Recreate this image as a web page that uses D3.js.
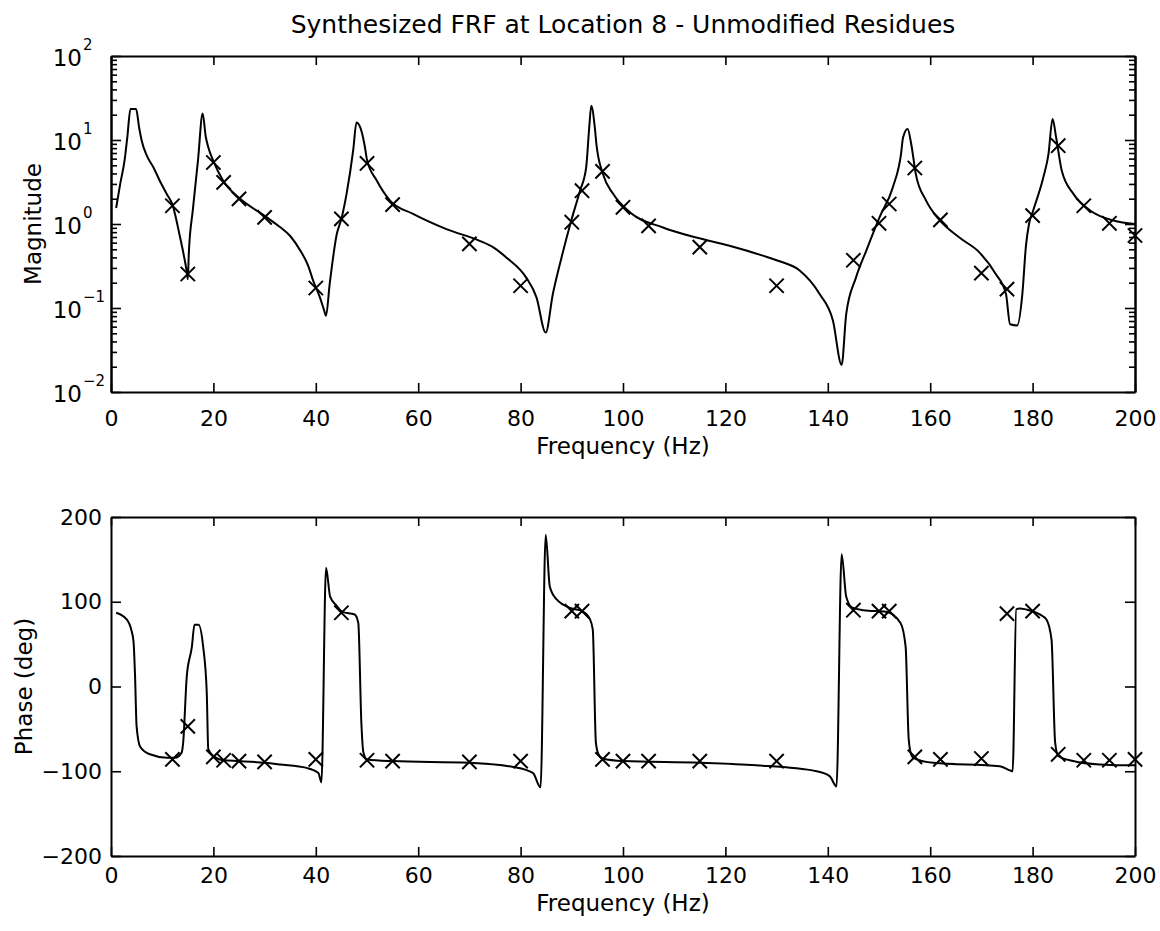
<!DOCTYPE html>
<html><head><meta charset="utf-8">
<script src="https://cdn.jsdelivr.net/npm/d3@7"></script>
<style>
html,body{margin:0;padding:0;background:#fff;}
svg{display:block;}
</style></head><body>
<svg id="chart" width="1160" height="931"></svg>
<script>
// ---------- data ----------
const titleText = "Synthesized FRF at Location 8 - Unmodified Residues";
const xLabelText = "Frequency (Hz)";
const magLabelText = "Magnitude";
const phaseLabelText = "Phase (deg)";
const freqTicks = [0, 20, 40, 60, 80, 100, 120, 140, 160, 180, 200];
const magTickExps = [-2, -1, 0, 1, 2];
const phaseTicks = [-200, -100, 0, 100, 200];

// synthesized FRF magnitude curve
const magCurveFreq = [1.0, 1.8, 2.7, 3.2, 3.8, 4.9, 5.5, 6.0, 7.0, 8.3, 9.5, 10.9, 12.0, 13.5, 14.3, 14.8, 15.0, 15.2, 16.0, 17.0, 17.9, 18.5, 19.0, 20.0, 22.0, 25.0, 30.0, 33.0, 35.0, 37.0, 38.5, 39.5, 40.8, 41.6, 42.0, 42.7, 44.1, 45.0, 46.0, 47.3, 47.95, 48.9, 49.6, 50.0, 51.9, 54.5, 59.0, 65.5, 72.0, 74.6, 77.2, 81.1, 83.1, 84.9, 86.3, 88.0, 89.8, 91.6, 92.8, 93.4, 93.8, 94.5, 94.8, 96.1, 98.1, 101.4, 107.8, 114.3, 120.8, 127.3, 130.6, 134.5, 138.4, 141.0, 142.7, 143.6, 145.5, 147.5, 150.1, 152.7, 154.3, 154.7, 155.6, 156.3, 157.2, 159.2, 161.8, 165.7, 169.6, 172.8, 174.8, 175.6, 177.0, 178.0, 178.7, 179.3, 180.1, 182.1, 183.1, 183.9, 184.6, 185.7, 188.0, 191.3, 195.8, 200.0];
const magCurveVal = [1.55, 3.0, 6.0, 11, 23.4, 23.4, 14, 9.8, 6.5, 4.7, 3.3, 2.27, 1.7, 0.69, 0.4, 0.27, 0.22, 0.45, 1.5, 5.8, 20.7, 11, 8.2, 5.6, 3.2, 2.05, 1.25, 0.92, 0.72, 0.48, 0.32, 0.21, 0.134, 0.095, 0.081, 0.19, 0.76, 1.15, 2.27, 7.5, 16.2, 12.9, 8.2, 5.8, 3.3, 1.9, 1.32, 0.87, 0.63, 0.53, 0.4, 0.23, 0.134, 0.051, 0.147, 0.4, 1.05, 2.49, 4.7, 14, 25.6, 14, 9.0, 3.9, 2.27, 1.37, 0.91, 0.69, 0.55, 0.42, 0.36, 0.28, 0.147, 0.071, 0.021, 0.085, 0.23, 0.48, 1.2, 2.73, 6.8, 10.7, 13.5, 8.9, 3.9, 1.9, 1.12, 0.69, 0.46, 0.254, 0.147, 0.064, 0.062, 0.147, 0.55, 1.0, 1.44, 3.6, 6.8, 17.8, 10.7, 4.3, 2.27, 1.44, 1.1, 1.0];

// synthesized FRF phase curve (deg)
const phaseCurveFreq = [1.0, 3.1, 4.0, 4.4, 4.7, 5.0, 5.7, 7.6, 10.9, 12.5, 13.8, 14.1, 14.8, 15.8, 16.3, 17.1, 18.0, 18.7, 19.0, 20.0, 22.0, 25.0, 30.0, 33.0, 38.2, 40.5, 41.1, 42.0, 42.8, 44.1, 45.2, 47.6, 48.3, 48.9, 49.3, 50.0, 55.0, 70.0, 78.6, 82.4, 83.9, 84.9, 85.7, 87.0, 90.0, 92.0, 93.5, 94.1, 94.7, 95.2, 96.0, 100.0, 115.0, 126.0, 137.8, 140.4, 141.7, 142.7, 143.6, 144.8, 147.0, 151.5, 154.2, 155.2, 155.8, 156.4, 157.0, 160.6, 173.6, 175.6, 176.1, 176.8, 177.5, 179.8, 181.4, 182.7, 183.7, 184.4, 185.0, 187.9, 193.1, 199.6, 200.0];
const phaseCurveVal = [87, 79, 66, 53, 12, -47, -71, -80, -84, -84, -78, -66, 12, 47, 73, 73, 47, -7, -74, -82, -87, -88, -90, -92, -96, -102, -113, 140, 106, 95, 88, 85, 75, -43, -78, -86, -88, -90, -95, -102, -119, 179, 118, 103, 92, 89, 80, 67, -66, -80, -85, -88, -90, -93, -100, -106, -118, 156, 106, 93, 90, 88, 75, 47, -62, -82, -85, -90, -94, -99, -100, 91, 92, 89, 85, 79, 55, -66, -82, -88, -92, -93, -93];

// measured points (x markers)
const measFreq = [12, 15, 20, 22, 25, 30, 40, 45, 50, 55, 70, 80, 90, 92, 96, 100, 105, 115, 130, 145, 150, 152, 157, 162, 170, 175, 180, 185, 190, 195, 200];
const measMag = [1.65, 0.254, 5.4, 3.13, 1.99, 1.2, 0.173, 1.15, 5.26, 1.7, 0.58, 0.184, 1.05, 2.49, 4.23, 1.58, 0.95, 0.53, 0.184, 0.37, 1.02, 1.73, 4.64, 1.12, 0.26, 0.168, 1.26, 8.55, 1.65, 1.02, 0.73];
const measPhase = [-86, -47, -83, -87, -88, -89, -86, 87, -87, -88, -89, -88, 89, 89, -86, -88, -88, -88, -88, 90, 89, 89, -83, -86, -85, 86, 89, -80, -87, -87, -86];

// ---------- layout ----------
const FONT = '"DejaVu Sans", "Liberation Sans", sans-serif';
const L = 111, R = 1135, T1 = 56, B1 = 392, T2 = 517, B2 = 856;
const svg = d3.select("#chart").attr("font-family", FONT);

const x = d3.scaleLinear().domain([0, 200]).range([L, R]);
const yMag = d3.scaleLog().domain([1e-2, 1e2]).range([B1, T1]);
const yPh = d3.scaleLinear().domain([-200, 200]).range([B2, T2]);

function styleAxis(g) {
  g.attr("font-family", FONT).attr("font-size", 22);
  g.selectAll(".domain").attr("stroke", "#000").attr("stroke-width", 2);
  g.selectAll(".tick line").attr("stroke", "#000").attr("stroke-width", 1.6);
  g.selectAll(".tick text").attr("fill", "#000");
}

// ----- top panel (magnitude) -----
svg.append("g").attr("transform", `translate(0,${B1})`)
  .call(d3.axisBottom(x).tickValues(freqTicks).tickSizeInner(-9).tickSizeOuter(0).tickPadding(18).tickFormat(d3.format("d")))
  .call(styleAxis);
svg.append("g").attr("transform", `translate(0,${T1})`)
  .call(d3.axisTop(x).tickValues(freqTicks).tickSizeInner(-9).tickSizeOuter(0).tickFormat(() => ""))
  .call(styleAxis);

const magMajor = magTickExps.map(e => Math.pow(10, e));
const magMinor = [];
magTickExps.slice(0, -1).forEach(e => { for (let k = 2; k <= 9; k++) magMinor.push(k * Math.pow(10, e)); });

svg.append("g").attr("transform", `translate(${L},0)`)
  .call(d3.axisLeft(yMag).tickValues(magMajor).tickSizeInner(-10).tickSizeOuter(0).tickFormat(() => ""))
  .call(styleAxis);
svg.append("g").attr("transform", `translate(${L},0)`)
  .call(d3.axisLeft(yMag).tickValues(magMinor).tickSizeInner(-6).tickSizeOuter(0).tickFormat(() => ""))
  .call(styleAxis);
svg.append("g").attr("transform", `translate(${R},0)`)
  .call(d3.axisRight(yMag).tickValues(magMajor).tickSizeInner(-10).tickSizeOuter(0).tickFormat(() => ""))
  .call(styleAxis);
svg.append("g").attr("transform", `translate(${R},0)`)
  .call(d3.axisRight(yMag).tickValues(magMinor).tickSizeInner(-6).tickSizeOuter(0).tickFormat(() => ""))
  .call(styleAxis);

// log tick labels 10^n
const magLab = svg.append("g").attr("font-family", FONT).attr("fill", "#000");
magTickExps.forEach(e => {
  const yy = yMag(Math.pow(10, e));
  magLab.append("text").attr("x", L - 29).attr("y", yy + 10).attr("text-anchor", "end").attr("font-size", 23).text("10");
  magLab.append("text").attr("x", L - 28).attr("y", yy - 6).attr("text-anchor", "start").attr("font-size", 15)
    .text(e < 0 ? "\u2212" + (-e) : String(e));
});

// magnitude curve
const magLine = d3.line().x(d => x(d[0])).y(d => yMag(d[1])).curve(d3.curveMonotoneX);
svg.append("path").datum(d3.zip(magCurveFreq, magCurveVal))
  .attr("d", magLine).attr("fill", "none").attr("stroke", "#000").attr("stroke-width", 2).attr("stroke-linejoin", "round");

const xSym = d3.symbol(d3.symbolX, 135);
svg.append("g").selectAll("path").data(d3.zip(measFreq, measMag)).join("path")
  .attr("transform", d => `translate(${x(d[0])},${yMag(d[1])})`)
  .attr("d", xSym).attr("fill", "none").attr("stroke", "#000").attr("stroke-width", 2);

// ----- bottom panel (phase) -----
svg.append("g").attr("transform", `translate(0,${B2})`)
  .call(d3.axisBottom(x).tickValues(freqTicks).tickSizeInner(-9).tickSizeOuter(0).tickPadding(11).tickFormat(d3.format("d")))
  .call(styleAxis);
svg.append("g").attr("transform", `translate(0,${T2})`)
  .call(d3.axisTop(x).tickValues(freqTicks).tickSizeInner(-9).tickSizeOuter(0).tickFormat(() => ""))
  .call(styleAxis);
svg.append("g").attr("transform", `translate(${L},0)`)
  .call(d3.axisLeft(yPh).tickValues(phaseTicks).tickSizeInner(-10).tickSizeOuter(0).tickPadding(9).tickFormat(d3.format("d")))
  .call(styleAxis);
svg.append("g").attr("transform", `translate(${R},0)`)
  .call(d3.axisRight(yPh).tickValues(phaseTicks).tickSizeInner(-10).tickSizeOuter(0).tickFormat(() => ""))
  .call(styleAxis);

const phLine = d3.line().x(d => x(d[0])).y(d => yPh(d[1])).curve(d3.curveMonotoneX);
svg.append("path").datum(d3.zip(phaseCurveFreq, phaseCurveVal))
  .attr("d", phLine).attr("fill", "none").attr("stroke", "#000").attr("stroke-width", 2).attr("stroke-linejoin", "round");

svg.append("g").selectAll("path").data(d3.zip(measFreq, measPhase)).join("path")
  .attr("transform", d => `translate(${x(d[0])},${yPh(d[1])})`)
  .attr("d", xSym).attr("fill", "none").attr("stroke", "#000").attr("stroke-width", 2);

// ----- texts -----
const cx = (L + R) / 2;
svg.append("text").attr("x", cx).attr("y", 33).attr("text-anchor", "middle").attr("font-size", 25).attr("fill", "#000").text(titleText);
svg.append("text").attr("x", cx).attr("y", 454).attr("text-anchor", "middle").attr("font-size", 23).attr("fill", "#000").text(xLabelText);
svg.append("text").attr("x", cx).attr("y", 911).attr("text-anchor", "middle").attr("font-size", 23).attr("fill", "#000").text(xLabelText);
svg.append("text").attr("transform", `translate(41,${(T1 + B1) / 2}) rotate(-90)`).attr("text-anchor", "middle").attr("font-size", 23).attr("fill", "#000").text(magLabelText);
svg.append("text").attr("transform", `translate(32,${(T2 + B2) / 2}) rotate(-90)`).attr("text-anchor", "middle").attr("font-size", 23).attr("fill", "#000").text(phaseLabelText);
</script>
</body></html>
